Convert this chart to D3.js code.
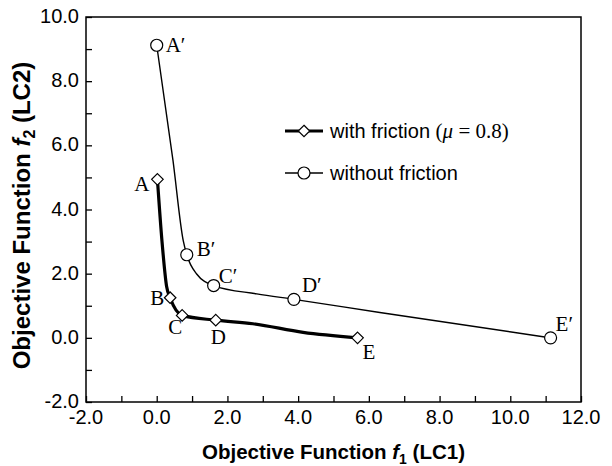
<!DOCTYPE html>
<html>
<head>
<meta charset="utf-8">
<script src="https://cdn.jsdelivr.net/npm/d3@7"></script>
<style>
  body { margin: 0; background: #fff; }
  svg { display: block; }
</style>
</head>
<body>
<div id="chart"></div>
<script>
// Marked points (Pareto solutions)
const frictionNames = ["A", "B", "C", "D", "E"];
const frictionF1 = [0.02, 0.38, 0.72, 1.67, 5.68];
const frictionF2 = [4.94, 1.25, 0.70, 0.55, 0.00];

const noFrictionNames = ["A\u2032", "B\u2032", "C\u2032", "D\u2032", "E\u2032"];
const noFrictionF1 = [0.00, 0.85, 1.61, 3.88, 11.14];
const noFrictionF2 = [9.12, 2.59, 1.63, 1.20, 0.00];

// Front curves (marked points plus unmarked solutions in between)
const frictionCurveF1 = [0.02, 0.15, 0.28, 0.38, 0.72, 1.67, 2.72, 4.14, 5.68];
const frictionCurveF2 = [4.94, 3.00, 1.60, 1.25, 0.70, 0.55, 0.44, 0.17, 0.00];
const noFrictionCurveF1 = [0.00, 0.46, 0.75, 0.85, 1.13, 1.61, 2.83, 3.88, 6.31, 11.14];
const noFrictionCurveF2 = [9.12, 5.53, 3.03, 2.59, 1.99, 1.63, 1.37, 1.20, 0.79, 0.00];

const xTicks = [-2, 0, 2, 4, 6, 8, 10, 12];
const yTicks = [-2, 0, 2, 4, 6, 8, 10];

const width = 612, height = 466;
const margin = { top: 17, right: 31, bottom: 64, left: 86 };
const sans = "Liberation Sans, Arial, sans-serif";
const serif = "Liberation Serif, Times New Roman, serif";
const fmt = d => d3.format(".1f")(d).replace("\u2212", "-");

const svg = d3.select("#chart").append("svg")
    .attr("width", width)
    .attr("height", height);

const x = d3.scaleLinear().domain([-2, 12]).range([margin.left, width - margin.right]);
const y = d3.scaleLinear().domain([-2, 10]).range([height - margin.bottom, margin.top]);

// frame
svg.append("rect")
    .attr("x", x(-2))
    .attr("y", y(10))
    .attr("width", x(12) - x(-2))
    .attr("height", y(-2) - y(10))
    .attr("fill", "none")
    .attr("stroke", "#000")
    .attr("stroke-width", 1.5);

// x axis: ticks inward, minor every 1
const xAxis = svg.append("g")
    .attr("transform", `translate(0,${y(-2)})`)
    .call(d3.axisBottom(x).tickValues(d3.range(-2, 12.1, 1)).tickSizeInner(-6).tickSizeOuter(0).tickFormat(""));
xAxis.select(".domain").remove();
xAxis.selectAll("line").attr("stroke-width", 1.3);

svg.append("g").selectAll("text")
    .data(xTicks)
    .enter()
    .append("text")
    .attr("x", d => x(d))
    .attr("y", y(-2) + 22)
    .attr("text-anchor", "middle")
    .style("font-family", sans)
    .style("font-size", "20px")
    .text(fmt);

const yAxis = svg.append("g")
    .attr("transform", `translate(${x(-2)},0)`)
    .call(d3.axisLeft(y).tickValues(d3.range(-2, 10.1, 1)).tickSizeInner(-6).tickSizeOuter(0).tickFormat(""));
yAxis.select(".domain").remove();
yAxis.selectAll("line").attr("stroke-width", 1.3);

svg.append("g").selectAll("text")
    .data(yTicks)
    .enter()
    .append("text")
    .attr("x", x(-2) - 7)
    .attr("y", d => y(d) + 6)
    .attr("text-anchor", "end")
    .style("font-family", sans)
    .style("font-size", "20px")
    .text(fmt);

// axis titles
const xTitle = svg.append("text")
    .attr("x", (x(-2) + x(12)) / 2)
    .attr("y", 459)
    .attr("text-anchor", "middle")
    .style("font-family", sans)
    .style("font-size", "20.5px")
    .style("font-weight", "bold");
xTitle.append("tspan").text("Objective Function ");
xTitle.append("tspan").style("font-style", "italic").text("f");
xTitle.append("tspan").attr("dy", 5).style("font-size", "14px").text("1");
xTitle.append("tspan").attr("dy", -5).text(" (LC1)");

const yTitle = svg.append("text")
    .attr("transform", `translate(30,${(y(-2) + y(10)) / 2 + 6}) rotate(-90)`)
    .attr("text-anchor", "middle")
    .style("font-family", sans)
    .style("font-size", "24px")
    .style("font-weight", "bold");
yTitle.append("tspan").text("Objective Function ");
yTitle.append("tspan").style("font-style", "italic").text("f");
yTitle.append("tspan").attr("dy", 5).style("font-size", "16px").text("2");
yTitle.append("tspan").attr("dy", -5).text(" (LC2)");

// curves
const line = d3.line()
    .x(d => x(d[0]))
    .y(d => y(d[1]))
    .curve(d3.curveMonotoneX);

svg.append("path")
    .datum(noFrictionCurveF1.map((v, i) => [v, noFrictionCurveF2[i]]))
    .attr("d", line)
    .attr("fill", "none")
    .attr("stroke", "#000")
    .attr("stroke-width", 1.4);

svg.append("path")
    .datum(frictionCurveF1.map((v, i) => [v, frictionCurveF2[i]]))
    .attr("d", line)
    .attr("fill", "none")
    .attr("stroke", "#000")
    .attr("stroke-width", 3.2);

const diamond = d3.symbol().type(d3.symbolDiamond2).size(85);

// markers
svg.append("g").selectAll("path")
    .data(frictionF1)
    .enter()
    .append("path")
    .attr("d", diamond)
    .attr("transform", (d, i) => `translate(${x(d)},${y(frictionF2[i])})`)
    .attr("fill", "#fff")
    .attr("stroke", "#000")
    .attr("stroke-width", 1.2);

svg.append("g").selectAll("circle")
    .data(noFrictionF1)
    .enter()
    .append("circle")
    .attr("cx", d => x(d))
    .attr("cy", (d, i) => y(noFrictionF2[i]))
    .attr("r", 6)
    .attr("fill", "#fff")
    .attr("stroke", "#000")
    .attr("stroke-width", 1.2);

// point labels: offsets from marker
const frictionLabelDx = [-8, -6, -7, -5, 5];
const frictionLabelDy = [12, 7, 19, 24, 21];
const frictionAnchor = ["end", "end", "middle", "start", "start"];
const noFrictionLabelDx = [9, 10, 5, 8, 5];
const noFrictionLabelDy = [7, 1, -3, -7, -7];

svg.append("g").selectAll("text")
    .data(frictionNames)
    .enter()
    .append("text")
    .attr("x", (d, i) => x(frictionF1[i]) + frictionLabelDx[i])
    .attr("y", (d, i) => y(frictionF2[i]) + frictionLabelDy[i])
    .attr("text-anchor", (d, i) => frictionAnchor[i])
    .style("font-family", serif)
    .style("font-size", "21px")
    .text(d => d);

svg.append("g").selectAll("text")
    .data(noFrictionNames)
    .enter()
    .append("text")
    .attr("x", (d, i) => x(noFrictionF1[i]) + noFrictionLabelDx[i])
    .attr("y", (d, i) => y(noFrictionF2[i]) + noFrictionLabelDy[i])
    .style("font-family", serif)
    .style("font-size", "21px")
    .text(d => d);

// legend
const legend = svg.append("g").attr("transform", "translate(285,131)");

legend.append("line")
    .attr("x1", 0).attr("x2", 38).attr("y1", 0).attr("y2", 0)
    .attr("stroke", "#000").attr("stroke-width", 3.2);
legend.append("path")
    .attr("d", diamond)
    .attr("transform", "translate(19,0)")
    .attr("fill", "#fff").attr("stroke", "#000").attr("stroke-width", 1.2);
const leg1 = legend.append("text")
    .attr("x", 45).attr("y", 7)
    .style("font-family", sans)
    .style("font-size", "20px");
leg1.append("tspan").text("with friction ");
leg1.append("tspan").style("font-family", serif).style("font-size", "21px").text("(");
leg1.append("tspan").style("font-family", serif).style("font-size", "21px").style("font-style", "italic").text("\u03bc");
leg1.append("tspan").style("font-family", serif).style("font-size", "21px").text(" = 0.8)");

legend.append("line")
    .attr("x1", 0).attr("x2", 38).attr("y1", 42).attr("y2", 42)
    .attr("stroke", "#000").attr("stroke-width", 1.4);
legend.append("circle")
    .attr("cx", 19).attr("cy", 42).attr("r", 6)
    .attr("fill", "#fff").attr("stroke", "#000").attr("stroke-width", 1.2);
legend.append("text")
    .attr("x", 45).attr("y", 49)
    .style("font-family", sans)
    .style("font-size", "20px")
    .text("without friction");
</script>
</body>
</html>
